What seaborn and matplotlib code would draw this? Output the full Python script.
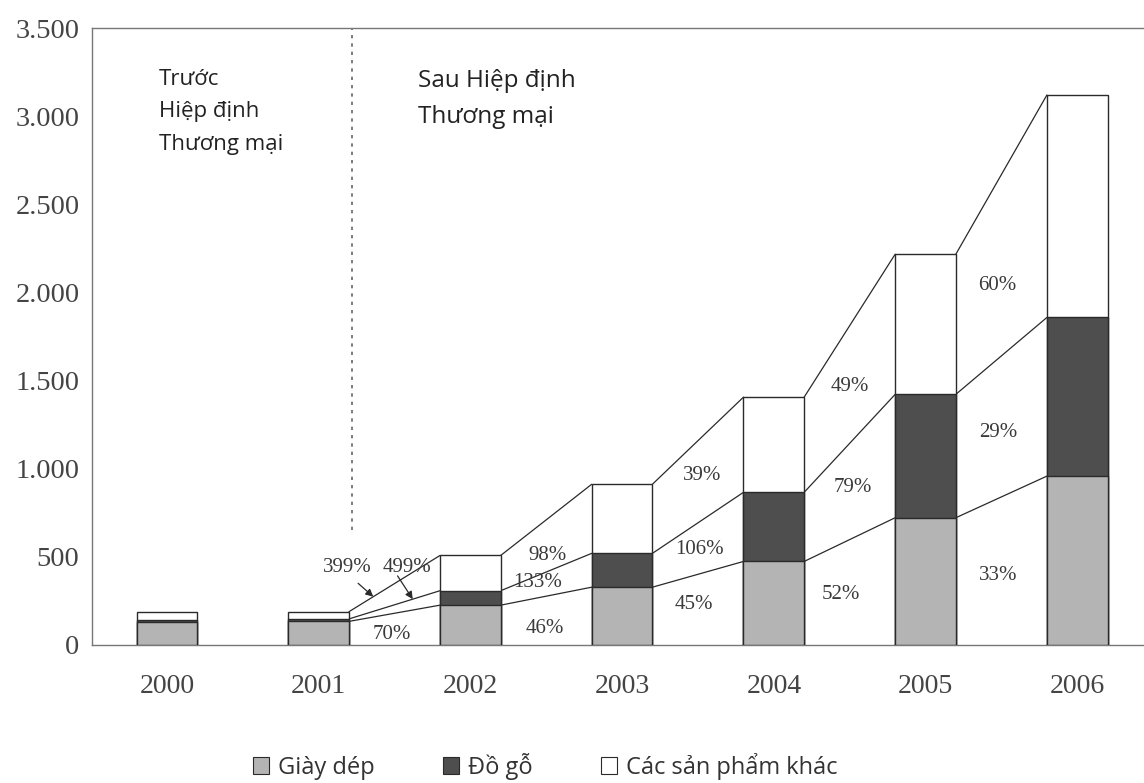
import numpy as np
import pandas as pd
import matplotlib
matplotlib.use("Agg")
import matplotlib.pyplot as plt
import seaborn as sns
from matplotlib.patches import Patch
from matplotlib.ticker import FuncFormatter

# Export values by year (million USD)
years = ["2000", "2001", "2002", "2003", "2004", "2005", "2006"]
giay_dep = [128, 134, 226, 328, 474, 722, 958]
do_go = [12, 14, 82, 192, 392, 700, 900]
san_pham_khac = [48, 41, 200, 392, 540, 795, 1262]

# Year-on-year growth (%) written between consecutive bars, from 2001->2002 onwards
growth_giay = [70, 46, 45, 52, 33]
growth_go = [499, 133, 106, 79, 29]
growth_khac = [399, 98, 39, 49, 60]

legend_labels = ["Giày dép", "Đồ gỗ", "Các sản phẩm khác"]
ytick_values = [0, 500, 1000, 1500, 2000, 2500, 3000, 3500]

GRAY = "#b4b4b4"
DARK = "#4e4e4e"
EDGE = "#2a2a2a"
TXT = "#3a3a3a"
SERIF = "Liberation Serif"
SANS = "Open Sans"

sns.set_theme(style="white")
plt.rcParams["font.family"] = [SERIF, "DejaVu Serif"]

df = pd.DataFrame({"year": years, "giay": giay_dep, "go": do_go, "khac": san_pham_khac})
df["giay_go"] = df["giay"] + df["go"]
df["total"] = df["giay_go"] + df["khac"]

fig = plt.figure(figsize=(11.44, 7.83), dpi=100)
ax = fig.add_axes([92 / 1144, 138 / 783, 1 - 92 / 1144, 617 / 783])

bw = 0.4
common = dict(x="year", data=df, width=bw, saturation=1, errorbar=None,
              edgecolor=EDGE, linewidth=1.0, ax=ax, zorder=3)
sns.barplot(y="total", color="white", **common)
sns.barplot(y="giay_go", color=DARK, **common)
sns.barplot(y="giay", color=GRAY, **common)

# Connector lines from each bar's segment tops to the next year's
levels = [df["total"].to_numpy(), df["giay_go"].to_numpy(), df["giay"].to_numpy()]
for i in range(1, len(years) - 1):
    for lv in levels:
        ax.plot([i + bw / 2, i + 1 - bw / 2], [lv[i], lv[i + 1]],
                color=EDGE, lw=0.9, zorder=2)

# Growth labels placed in the gaps between bars
label_pos = {
    "giay": [(1.48, 57), (2.49, 96), (3.47, 227), (4.44, 284), (5.48, 397)],
    "go": [None, (2.44, 357), (3.51, 539), (4.52, 896), (5.48, 1208)],
    "khac": [None, (2.51, 510), (3.53, 964), (4.50, 1469), (5.47, 2042)],
}
for key, vals in (("giay", growth_giay), ("go", growth_go), ("khac", growth_khac)):
    for pos, v in zip(label_pos[key], vals):
        if pos is None:
            continue
        ax.text(pos[0], pos[1], f"{v}%", ha="center", va="center",
                fontsize=15, color=TXT, zorder=5)

# 2001 -> 2002 labels, with arrows pointing at their connector lines
def on_line(lv, x):
    x0, x1 = 1 + bw / 2, 2 - bw / 2
    return lv[1] + (lv[2] - lv[1]) * (x - x0) / (x1 - x0)

for v, tx, start, end_x, lv in ((growth_khac[0], 1.19, (1.26, 350), 1.36, levels[0]),
                                (growth_go[0], 1.58, (1.52, 392), 1.62, levels[1])):
    ax.text(tx, 442, f"{v}%", ha="center", va="center", fontsize=15,
            color=TXT, zorder=5)
    ax.annotate("", xy=(end_x, on_line(lv, end_x)), xytext=start,
                arrowprops=dict(arrowstyle="-|>", color=EDGE, lw=0.9,
                                mutation_scale=11, shrinkA=0, shrinkB=0),
                zorder=5)

# Dotted divider between the two periods
ax.plot([1.22, 1.22], [650, 3500], ls=(0, (2, 3)), color="#666666", lw=1.2, zorder=1)

fig.text(159 / 1144, 1 - 112 / 783, "Trước\nHiệp định\nThương mại", ha="left", va="center",
         fontsize=16, family=SANS, color="#222222", linespacing=1.72)
fig.text(418 / 1144, 1 - 99 / 783, "Sau Hiệp định\nThương mại", ha="left", va="center",
         fontsize=17.5, family=SANS, color="#222222", linespacing=1.7)

ax.set_xlim(-0.494, 6.44)
ax.set_ylim(0, 3500)
ax.set_yticks(ytick_values)
ax.yaxis.set_major_formatter(FuncFormatter(lambda v, p: f"{int(v):,}".replace(",", ".")))
ax.set_xlabel("")
ax.set_ylabel("")
ax.tick_params(axis="y", length=0, pad=9, labelsize=20.5, labelcolor="#444444")
ax.tick_params(axis="x", length=0, pad=21, labelsize=20, labelcolor="#444444")
for side in ("left", "top", "bottom"):
    ax.spines[side].set_color("#777777")
    ax.spines[side].set_linewidth(1.0)
ax.spines["right"].set_visible(False)

handles = [Patch(facecolor=GRAY, edgecolor=EDGE, lw=0.8),
           Patch(facecolor=DARK, edgecolor=EDGE, lw=0.8),
           Patch(facecolor="white", edgecolor=EDGE, lw=0.8)]
fig.legend(handles, legend_labels, loc="center", bbox_to_anchor=(545 / 1144, 1 - 766 / 783),
           ncol=3, frameon=False, prop={"family": SANS, "size": 17},
           handlelength=0.7, handleheight=0.7, handletextpad=0.35, columnspacing=2.9,
           labelcolor="#333333")

fig.savefig("out.png", dpi=100, facecolor="white")
